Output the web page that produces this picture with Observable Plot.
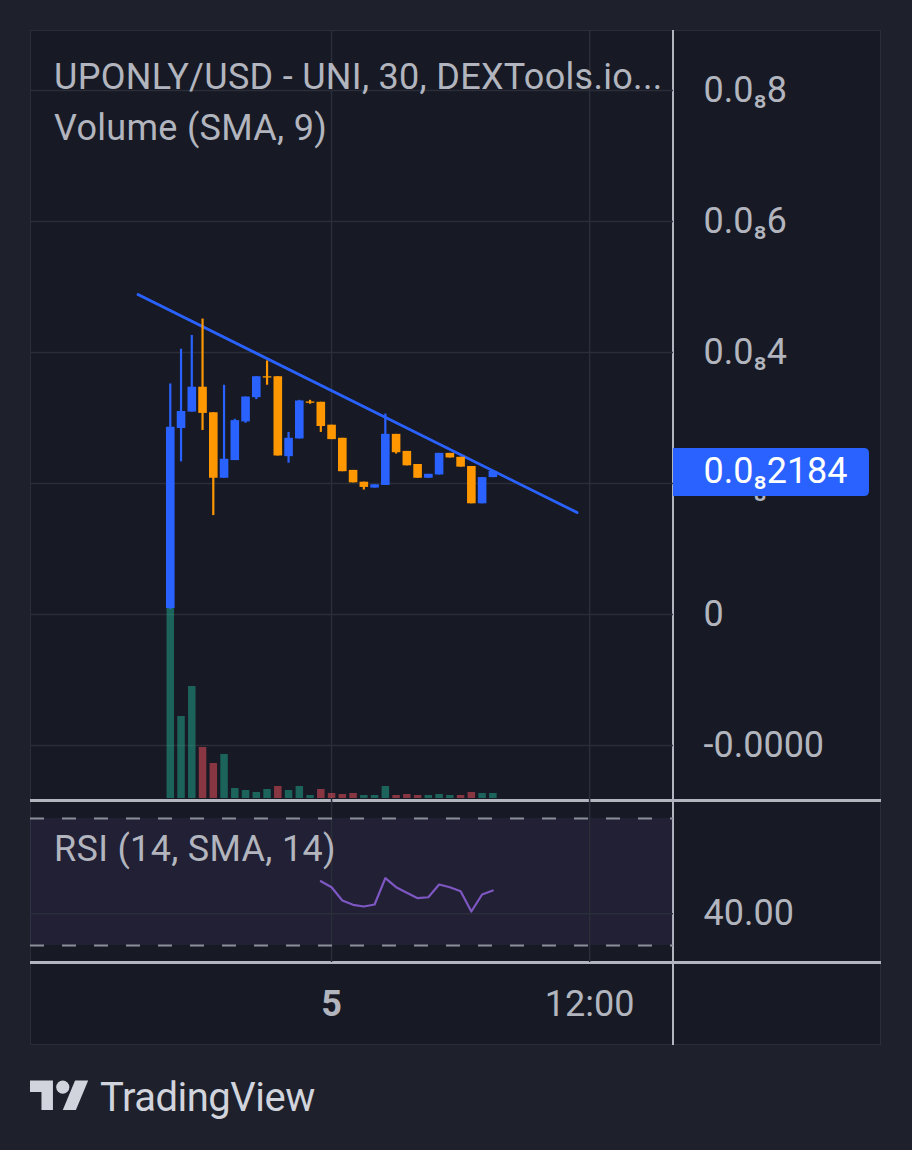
<!DOCTYPE html>
<html><head><meta charset="utf-8">
<script src="https://cdn.jsdelivr.net/npm/d3@7"></script>
<script src="https://cdn.jsdelivr.net/npm/@observablehq/plot@0.6"></script>
<style>
html,body{margin:0;padding:0;background:#1e212c;}
#root{position:relative;width:912px;height:1150px;background:#1e212c;overflow:hidden;font-family:Roboto,"Noto Sans",sans-serif;}
.abs{position:absolute;}
#frame{left:30px;top:30px;width:851px;height:1015px;background:#171a25;box-sizing:border-box;border:1px solid #2a2e39;}
.sepH{left:30px;width:851px;height:2.5px;background:#b2b5be;}
.sepV{left:672px;top:30px;width:2px;height:1015px;background:#b2b5be;}
.legend{left:54px;font-size:36px;line-height:36px;color:#b2b5be;white-space:nowrap;letter-spacing:0.3px;}
</style></head>
<body>
<div id="root">
  <div id="frame" class="abs"></div>
  <div class="abs sepH" style="top:799px"></div>
  <div class="abs sepH" style="top:961px"></div>
  <div class="abs sepV"></div>
  <div id="pGrid" class="abs" style="left:30px;top:30px"></div>
  <div id="pVol" class="abs" style="left:30px;top:568px"></div>
  <div id="pCandle" class="abs" style="left:30px;top:30px"></div>
  <div id="pRsi" class="abs" style="left:30px;top:800px"></div>
  <div class="abs legend" style="top:58.5px">UPONLY/USD - UNI, 30, DEXTools.io...</div>
  <div class="abs legend" style="top:109.5px">Volume (SMA, 9)</div>
  <div class="abs legend" style="top:830.5px">RSI (14, SMA, 14)</div>
  <svg class="abs" style="left:30px;top:1074.4px" width="59" height="46" viewBox="0 0 36 28">
    <path d="M14 22H7V11H0V4h14v18zM28 22h-8l7.5-18h8L28 22z" fill="#d1d4dc"/>
    <circle cx="20" cy="8" r="4" fill="#d1d4dc"/>
  </svg>
  <div class="abs" style="left:100px;top:1078px;font-size:40px;line-height:40px;color:#d1d4dc;letter-spacing:-0.5px">TradingView</div>
</div>
<script>
// ---- data (prices in units of 1e-9 USD, i.e. 0.0₈x) ----
const times = [
  "2022-03-04T16:30Z","2022-03-04T17:00Z","2022-03-04T17:30Z","2022-03-04T18:00Z","2022-03-04T18:30Z",
  "2022-03-04T19:00Z","2022-03-04T19:30Z","2022-03-04T20:00Z","2022-03-04T20:30Z","2022-03-04T21:00Z",
  "2022-03-04T21:30Z","2022-03-04T22:00Z","2022-03-04T22:30Z","2022-03-04T23:00Z","2022-03-04T23:30Z",
  "2022-03-05T00:00Z","2022-03-05T00:30Z","2022-03-05T01:00Z","2022-03-05T01:30Z","2022-03-05T02:00Z",
  "2022-03-05T02:30Z","2022-03-05T03:00Z","2022-03-05T03:30Z","2022-03-05T04:00Z","2022-03-05T04:30Z",
  "2022-03-05T05:00Z","2022-03-05T05:30Z","2022-03-05T06:00Z","2022-03-05T06:30Z","2022-03-05T07:00Z",
  "2022-03-05T07:30Z"];
const open  = [0.09,2.84,3.09,3.47,3.08,2.08,2.35,2.94,3.31,3.63,3.63,2.41,2.68,3.245,3.24,2.89,2.69,2.20,2.02,1.93,1.97,2.75,2.49,2.29,2.08,2.13,2.46,2.40,2.26,1.69,2.09];
const high  = [3.52,4.05,4.26,4.51,3.08,3.50,2.98,3.32,3.63,3.87,3.63,2.78,3.27,3.27,3.24,2.89,2.69,2.20,2.02,1.98,3.06,2.75,2.49,2.29,2.14,2.46,2.46,2.40,2.26,2.09,2.20];
const low   = [0.08,2.33,3.09,2.81,1.51,2.08,2.35,2.92,3.28,3.50,2.42,2.31,2.68,3.21,2.78,2.67,2.18,2.01,1.90,1.93,1.97,2.45,2.27,2.08,2.08,2.13,2.39,2.25,1.69,1.69,2.09];
const close = [2.86,3.10,3.47,3.07,2.08,2.37,2.96,3.32,3.63,3.61,2.42,2.69,3.26,3.225,2.87,2.67,2.18,2.01,1.94,1.98,2.75,2.47,2.27,2.08,2.14,2.46,2.39,2.25,1.69,2.09,2.184];
const volume = [19000,8200,11200,5100,3500,4400,1000,800,600,900,1200,800,1200,300,900,500,400,500,300,300,1200,300,400,300,300,400,300,300,600,500,500];
const volumeUp = [1,1,1,0,0,1,1,1,1,1,0,1,1,1,0,0,0,0,1,1,1,0,0,0,1,1,1,0,0,1,1];
const rsi = [null,null,null,null,null,null,null,null,null,null,null,null,null,null,
  50.25,48.36,44.17,42.82,42.28,42.91,51.2,48.36,46.6,44.9,45.2,49.2,48.36,47.1,40.7,46.06,47.3];
const trendTimes = ["2022-03-04T15:00Z","2022-03-05T11:25Z"];
const trendPrices = [4.885, 1.557];
const priceTicks = [-2, 0, 2, 4, 6, 8];
const rsiTicks = [40];
const rsiLevels = [30, 70];
const timeTicks = ["2022-03-05T00:00Z","2022-03-05T12:00Z"];
const timeTickLabels = ["5","12:00"];

// ---- tables ----
const bars = times.map((t,i)=>({time:new Date(t),open:open[i],high:high[i],low:low[i],close:close[i],
  volume:volume[i],volUp:volumeUp[i]===1,rsi:rsi[i],up:close[i]>=open[i]}));
const trend = trendTimes.map((t,i)=>({time:new Date(t),price:trendPrices[i]}));
const tTicks = timeTicks.map(t=>new Date(t));
const last = bars[bars.length-1];

const fmtPrice = v => v===0 ? "0" : v<0 ? "-0.0000" : "0.0\u2088" + String(v).replace(".","");

// ---- layout / style ----
const UP="#2962ff", DOWN="#ff9800", GRID="#2a2e39";
const xDomain=[new Date("2022-03-04T10:00Z"), new Date("2022-03-05T15:54Z")];
const yPriceDomain=[-2.8397, 8.9160];
const W=851, MR=208;
const style={background:"transparent",color:"#b2b5be",fontFamily:"Roboto, 'Noto Sans', sans-serif",fontSize:"36px",overflow:"visible"};
const base = (h, mt, mb, y) => ({width:W,height:h,marginLeft:0,marginRight:MR,marginTop:mt,marginBottom:mb,
  x:{type:"utc",domain:xDomain,axis:null}, y:Object.assign({axis:null},y), style});

// grid + price axis
const gridPlot = Plot.plot({...base(770,0,0,{domain:yPriceDomain}),
  marks:[
    Plot.gridY(priceTicks,{stroke:GRID,strokeOpacity:1,strokeWidth:1.5}),
    Plot.gridX(tTicks,{stroke:GRID,strokeOpacity:1,strokeWidth:1.5}),
    Plot.axisY(priceTicks,{anchor:"right",tickSize:0,tickPadding:30,tickFormat:fmtPrice,label:null,fill:"#b2b5be"})
  ]});
document.getElementById("pGrid").append(gridPlot);

// volume
const volPlot = Plot.plot({...base(230,40,0,{domain:[0,d3.max(volume)]}),
  marks:[
    Plot.ruleX(bars.filter(d=>d.volUp),{x:"time",y1:0,y2:"volume",stroke:"#22ab94",strokeOpacity:0.5,strokeWidth:7.5}),
    Plot.ruleX(bars.filter(d=>!d.volUp),{x:"time",y1:0,y2:"volume",stroke:"#f7525f",strokeOpacity:0.5,strokeWidth:7.5})
  ]});
document.getElementById("pVol").append(volPlot);

// candles + trend line + last price label
const candlePlot = Plot.plot({...base(770,0,0,{domain:yPriceDomain}),
  marks:[
    Plot.line(trend,{x:"time",y:"price",stroke:UP,strokeWidth:2.8}),
    Plot.ruleX(bars.filter(d=>d.up),{x:"time",y1:"low",y2:"high",stroke:UP,strokeWidth:2.2}),
    Plot.ruleX(bars.filter(d=>!d.up),{x:"time",y1:"low",y2:"high",stroke:DOWN,strokeWidth:2.2}),
    Plot.ruleX(bars.filter(d=>d.up),{x:"time",y1:"open",y2:"close",stroke:UP,strokeWidth:8.6}),
    Plot.ruleX(bars.filter(d=>!d.up),{x:"time",y1:"open",y2:"close",stroke:DOWN,strokeWidth:8.6}),
    Plot.text([last],{y:"close",text:d=>fmtPrice(d.close),frameAnchor:"right",dx:30,textAnchor:"start",fill:"white"})
  ]});
{
  const yy = candlePlot.scale("y").apply(last.close);
  const x0 = W-MR, w=196, h=48, r=5, y0=yy-23;
  const d = `M${x0},${y0}H${x0+w-r}Q${x0+w},${y0} ${x0+w},${y0+r}V${y0+h-r}Q${x0+w},${y0+h} ${x0+w-r},${y0+h}H${x0}Z`;
  const svg = d3.select(candlePlot);
  const textNode = svg.selectAll("text").nodes().pop();
  const g = textNode ? textNode.closest("g") : null;
  const p = document.createElementNS("http://www.w3.org/2000/svg","path");
  p.setAttribute("d",d); p.setAttribute("fill","#2962ff");
  if (g && g.parentNode) g.parentNode.insertBefore(p,g); else candlePlot.appendChild(p);
}
document.getElementById("pCandle").append(candlePlot);

// RSI pane + time axis
const rsiPlot = Plot.plot({...base(245,0,83,{domain:[24.646,75.67]}),
  marks:[
    Plot.rect([0],{y1:rsiLevels[0],y2:rsiLevels[1],fill:"#7e57c2",fillOpacity:0.1}),
    Plot.gridY(rsiTicks,{stroke:GRID,strokeOpacity:1,strokeWidth:1.5}),
    Plot.gridX(tTicks,{stroke:GRID,strokeOpacity:1,strokeWidth:1.5}),
    Plot.ruleY(rsiLevels,{stroke:"#8c8f99",strokeWidth:2,strokeDasharray:"14,18"}),
    Plot.line(bars.filter(d=>d.rsi!=null),{x:"time",y:"rsi",stroke:"#7e57c2",strokeWidth:2.2}),
    Plot.axisY(rsiTicks,{anchor:"right",tickSize:0,tickPadding:30,tickFormat:d=>d.toFixed(2),label:null,fill:"#b2b5be"}),
    Plot.axisX([tTicks[0]],{anchor:"bottom",tickSize:0,tickPadding:28,tickFormat:()=>timeTickLabels[0],label:null,fontWeight:"bold",fill:"#b2b5be"}),
    Plot.axisX([tTicks[1]],{anchor:"bottom",tickSize:0,tickPadding:28,tickFormat:()=>timeTickLabels[1],label:null,fill:"#b2b5be"})
  ]});
document.getElementById("pRsi").append(rsiPlot);
</script>
</body></html>
